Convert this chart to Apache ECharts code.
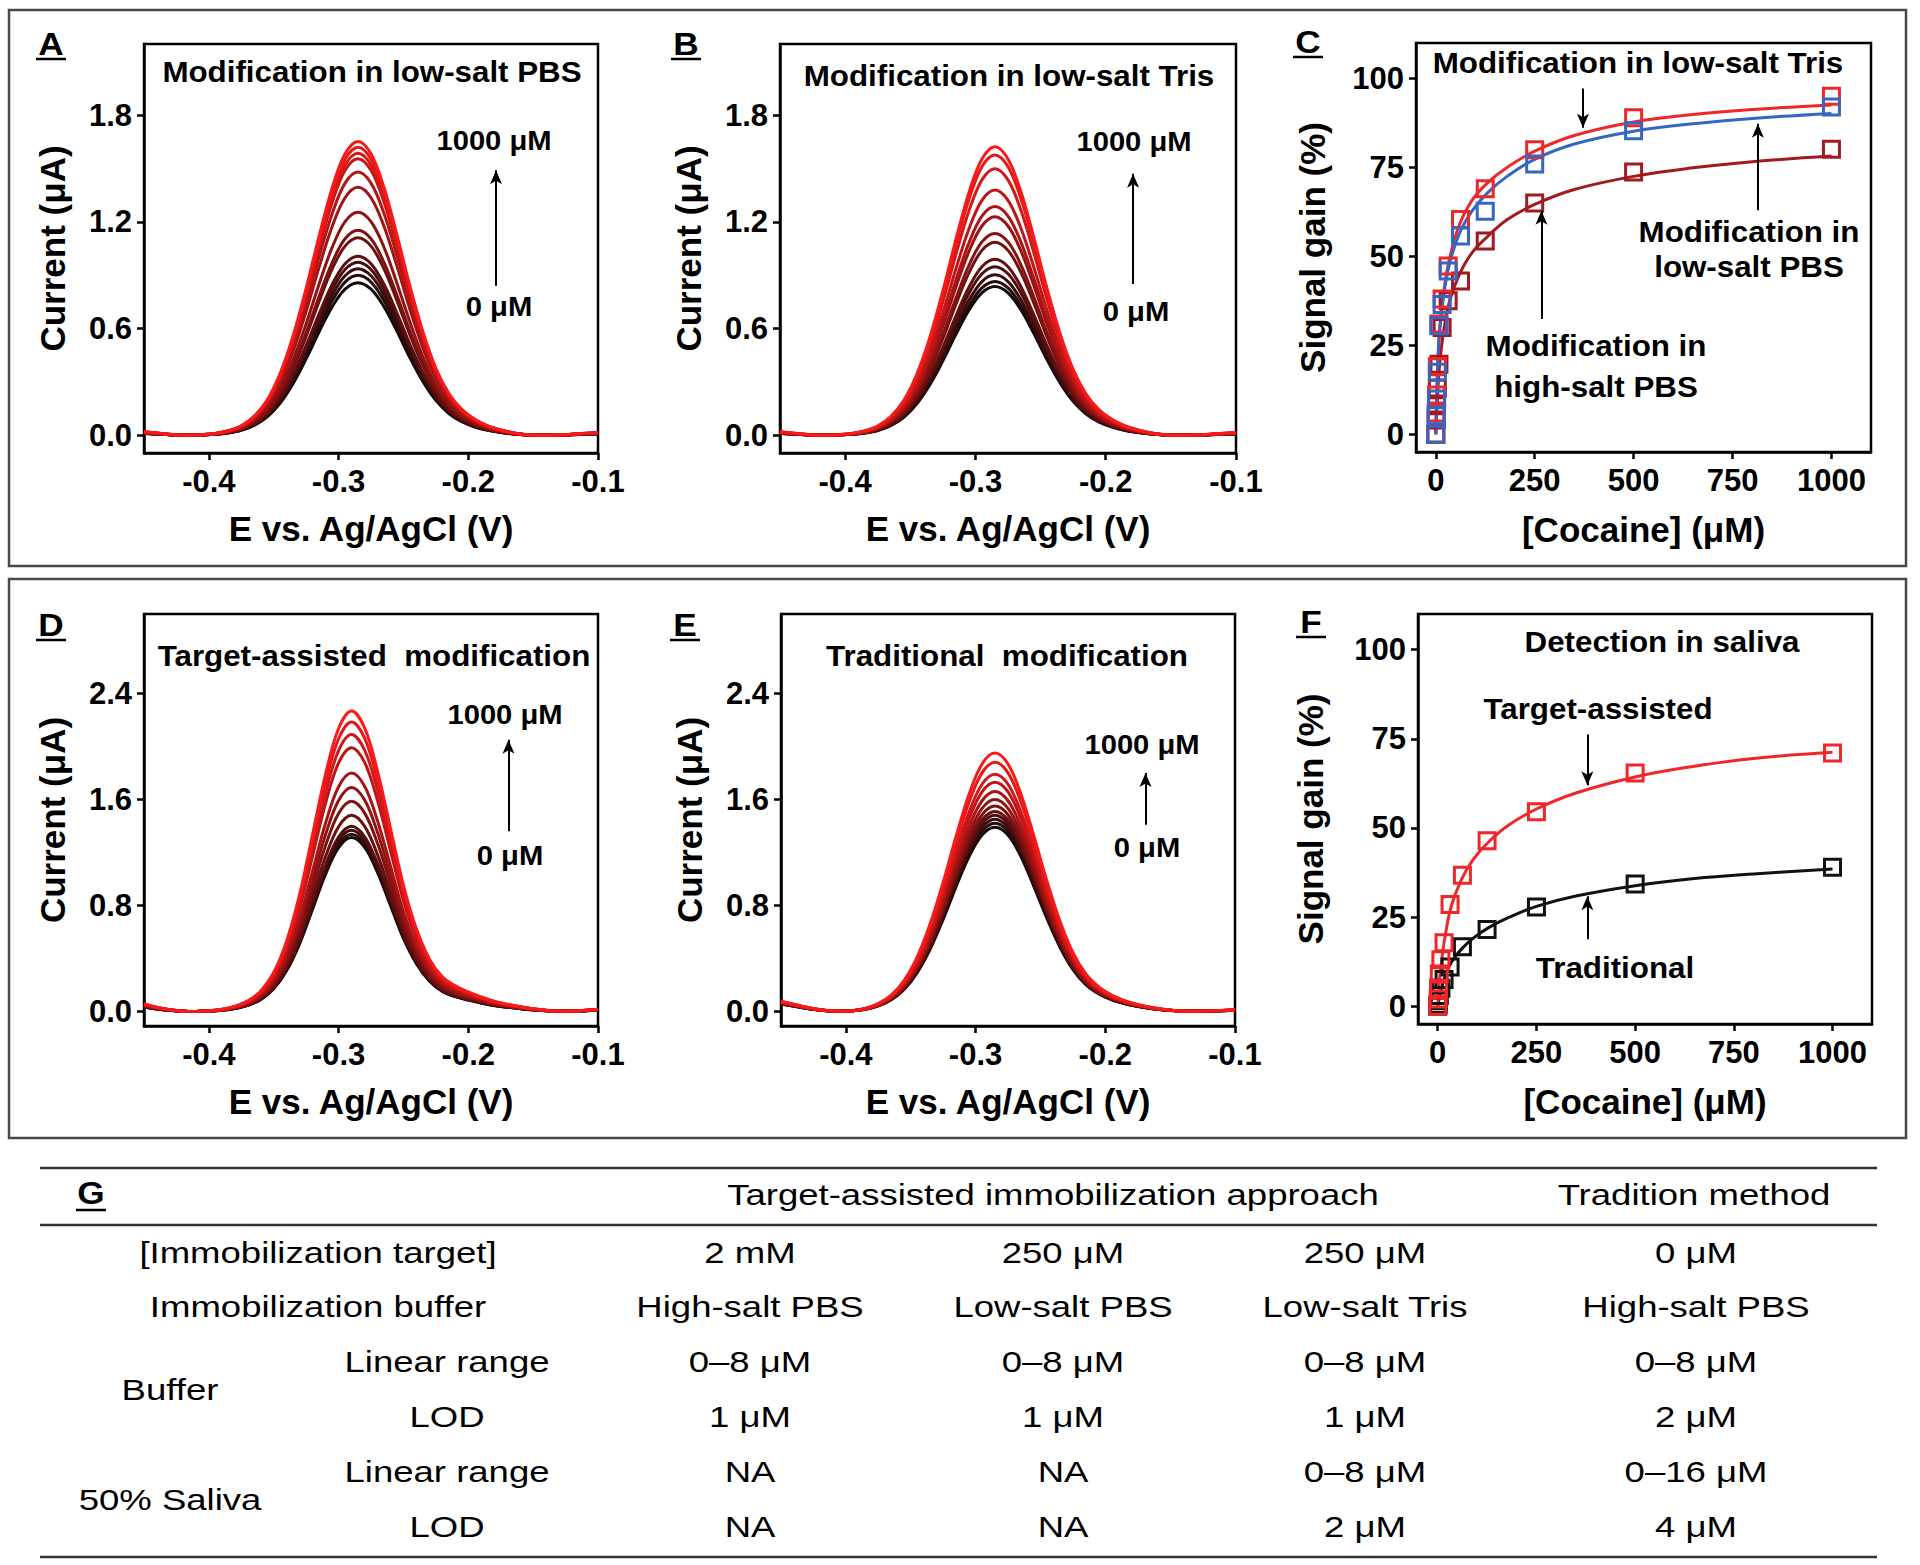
<!DOCTYPE html>
<html><head><meta charset="utf-8">
<script src="https://cdn.jsdelivr.net/npm/echarts@6/dist/echarts.min.js"></script>
<style>html,body{margin:0;padding:0;background:#fff}#chart{width:1920px;height:1565px}</style>
</head><body><div id="chart"></div>
<script>
// ---------- DATA ----------
// Square-wave voltammograms: potentials (V) and normalised peak profile
const potAB = [-0.45,-0.435,-0.425,-0.415,-0.405,-0.395,-0.385,-0.375,-0.365,-0.355,-0.345,-0.335,-0.325,-0.315,-0.305,-0.295,-0.285,-0.275,-0.265,-0.255,-0.245,-0.235,-0.225,-0.215,-0.205,-0.195,-0.185,-0.175,-0.165,-0.155,-0.145,-0.135,-0.125,-0.115,-0.10];
const shapeAB = [0.012,0.005,0.001,0.0,0.002,0.006,0.015,0.032,0.065,0.12,0.211,0.339,0.5,0.678,0.841,0.958,1.0,0.958,0.843,0.682,0.508,0.352,0.228,0.142,0.088,0.054,0.032,0.018,0.008,0.002,0.0,0.0,0.002,0.005,0.009];
const potD = [-0.45,-0.44,-0.43,-0.42,-0.41,-0.40,-0.39,-0.38,-0.37,-0.36,-0.35,-0.34,-0.33,-0.32,-0.31,-0.30,-0.29,-0.28,-0.27,-0.26,-0.25,-0.24,-0.23,-0.22,-0.21,-0.20,-0.19,-0.18,-0.17,-0.16,-0.15,-0.14,-0.13,-0.12,-0.11,-0.10];
const shapeD = [0.026,0.014,0.006,0.001,0.0,0.002,0.007,0.017,0.035,0.068,0.13,0.235,0.39,0.59,0.79,0.942,1.0,0.945,0.80,0.61,0.42,0.275,0.175,0.115,0.085,0.065,0.048,0.034,0.024,0.016,0.009,0.004,0.001,0.001,0.004,0.007];
const potE = [-0.45,-0.435,-0.425,-0.415,-0.405,-0.395,-0.385,-0.375,-0.365,-0.355,-0.345,-0.335,-0.325,-0.315,-0.305,-0.295,-0.285,-0.275,-0.265,-0.255,-0.245,-0.235,-0.225,-0.215,-0.205,-0.195,-0.185,-0.175,-0.165,-0.155,-0.145,-0.135,-0.125,-0.115,-0.10];
const shapeE = [0.04,0.022,0.011,0.004,0.001,0.003,0.012,0.03,0.063,0.12,0.211,0.339,0.5,0.678,0.841,0.958,1.0,0.958,0.841,0.678,0.505,0.35,0.228,0.145,0.095,0.063,0.042,0.027,0.016,0.008,0.003,0.001,0.001,0.003,0.006];
// peak currents (µA), 0 µM -> 1000 µM
const peaksA = [0.858,0.899,0.936,0.973,1.007,1.110,1.153,1.254,1.394,1.480,1.555,1.586,1.620,1.652];
const peaksB = [0.836,0.865,0.902,0.948,0.989,1.085,1.135,1.228,1.286,1.379,1.499,1.576,1.622];
const peaksD = [1.312,1.337,1.367,1.397,1.48,1.586,1.69,1.80,1.991,2.09,2.185,2.267];
const peaksE = [1.39,1.42,1.45,1.48,1.51,1.55,1.60,1.66,1.73,1.79,1.88,1.95];

// Panel C: signal gain (%) vs [cocaine] (µM)
const concC = [0,1,2,4,8,16,31.25,62.5,125,250,500,1000];
const gainTrisC = [0,6,11,19,31,38,47.3,60.4,69,80,89,95];
const gainLowPbsC = [0,5.2,9.9,17.4,30.5,36.5,45.9,55.7,62.7,76,85.3,92];
const gainHighPbsC = [0,4,8,13,19.7,30,37.5,43.1,54.3,65,73.7,80.1];
const fitXC = [0,5,10,20,35,60,90,130,180,250,350,500,650,800,1000];
const fitTrisC = [0,20,30,40,49.5,59,65.5,70.6,75,79.6,84,87.8,89.9,91.3,92.6];
const fitLowPbsC = [0,19,29,39,48,56.5,62.5,67.8,72.5,77.3,81.6,85.2,87.3,88.8,90.2];
const fitHighPbsC = [0,12,20,29,37.5,45,50.8,55.5,60.3,64.6,68.8,72.5,74.9,76.6,78.2];

// Panel F: detection in saliva
const concF = [0,1,2,4,8,16,31.25,62.5,125,250,500,1000];
const gainTargetF = [0,2,5,9,13,17.8,28.5,36.7,46.4,54.5,65.4,71];
const gainTradF = [0,0.5,1.5,3,5,7.5,11,16.7,21.5,27.8,34.3,39];
const fitXF = [0,5,10,20,35,60,90,130,180,250,350,500,650,800,1000];
const fitTargetF = [0,8,13,20.5,28.3,35.5,41.2,46.2,50.8,55.3,59.8,64.3,67.3,69.5,71.2];
const fitTradF = [0,2.9,5.2,8.8,12.4,16,19.1,22.1,24.9,28,30.9,33.8,35.8,37.1,38.5];

// Tick labels
const voltTicks = [-0.4,-0.3,-0.2,-0.1];
const currTicksAB = [0,0.6,1.2,1.8];
const currTicksDE = [0,0.8,1.6,2.4];
const concTicks = [0,250,500,750,1000];
const gainTicks = [0,25,50,75,100];

// Table G
const tableHead = ['Target-assisted immobilization approach','Tradition method'];
const rowNames = ['[Immobilization target]','Immobilization buffer'];
const groupNames = ['Buffer','50% Saliva'];
const metricNames = ['Linear range','LOD'];
const valTarget = ['2 mM','250 μM','250 μM','0 μM'];
const valBuffer = ['High-salt PBS','Low-salt PBS','Low-salt Tris','High-salt PBS'];
const valBufLinear = ['0–8 μM','0–8 μM','0–8 μM','0–8 μM'];
const valBufLOD = ['1 μM','1 μM','1 μM','2 μM'];
const valSalLinear = ['NA','NA','0–8 μM','0–16 μM'];
const valSalLOD = ['NA','NA','2 μM','4 μM'];

// ---------- STYLE / BUILD ----------
const FONT = '"Liberation Sans", Arial, Helvetica, sans-serif';
const labelStyle = {color:'#000', fontWeight:'bold', fontSize:31, fontFamily:FONT};
const nameStyle = {color:'#000', fontWeight:'bold', fontSize:35, fontFamily:FONT};
const lineAx = {show:true, onZero:false, lineStyle:{color:'#000', width:2.5}};

function gradColor(i, n){
  const t = n>1 ? i/(n-1) : 1;
  return 'rgb(' + Math.round(20 + 230*t) + ',' + Math.round(10 + 15*t) + ',' + Math.round(10 + 15*t) + ')';
}
function valueAxis(gi, min, max, ticks, fmt, name, gap, isX){
  return {type:'value', gridIndex:gi, min:min, max:max, name:name, nameLocation:'middle', nameGap:gap,
    nameMoveOverlap:false, nameTextStyle:nameStyle, axisLine:lineAx,
    axisTick:{show:true, customValues:ticks, length:7, inside:false, lineStyle:{color:'#000', width:2.5}},
    axisLabel:Object.assign({customValues:ticks, formatter:fmt, margin:isX?13:12}, labelStyle),
    splitLine:{show:false}, minorTick:{show:false}};
}
function sweep(gi, pot, shape, peaks, arrow){
  return peaks.map((pk,i)=>{
    const s = {type:'line', xAxisIndex:gi, yAxisIndex:gi, data:pot.map((x,j)=>[x, shape[j]*pk]),
      smooth:0.35, showSymbol:false, silent:true, z:2,
      lineStyle:{width:3, color:gradColor(i, peaks.length)}};
    if(i===0 && arrow){
      s.markLine = {silent:true, symbol:['none','arrow'], symbolSize:[9,14], animation:false,
        label:{show:false}, lineStyle:{color:'#000', width:2, type:'solid'},
        data:[[{coord:arrow[0]},{coord:arrow[1]}]]};
    }
    return s;
  });
}
function fitLine(gi, xs, ys, color, arrows){
  const s = {type:'line', xAxisIndex:gi, yAxisIndex:gi, data:xs.map((x,j)=>[x, ys[j]]),
    smooth:0.4, showSymbol:false, silent:true, z:3, lineStyle:{width:3, color:color}};
  if(arrows){
    s.markLine = {silent:true, symbol:['none','arrow'], symbolSize:[9,14], animation:false,
      label:{show:false}, lineStyle:{color:'#000', width:2, type:'solid'},
      data:arrows.map(a=>[{coord:a[0]},{coord:a[1]}])};
  }
  return s;
}
function squares(gi, xs, ys, color){
  return {type:'scatter', xAxisIndex:gi, yAxisIndex:gi, data:xs.map((x,j)=>[x, ys[j]]),
    symbol:'rect', symbolSize:16, silent:true, z:4,
    itemStyle:{color:'rgba(255,255,255,0)', borderColor:color, borderWidth:3, opacity:1}};
}

const RED = '#f0262b', BLUE = '#3467c2', DARKRED = '#a01a1f', BLACK = '#111';
const f1 = v => v.toFixed(1);
const f0 = v => String(v);

const grids = [
  {left:144, top:44, width:454, height:409},
  {left:780, top:44, width:456, height:409},
  {left:1416, top:43, width:455, height:409},
  {left:144, top:614, width:454, height:412},
  {left:781, top:614, width:454, height:412},
  {left:1418, top:614, width:454, height:410}
].map(g=>Object.assign({show:true, borderColor:'#000', borderWidth:2.5, backgroundColor:'transparent', outerBoundsMode:'none', containLabel:false}, g));

const xAxes = [
  valueAxis(0,-0.45,-0.1,voltTicks,f1,'E vs. Ag/AgCl (V)',58,true),
  valueAxis(1,-0.45,-0.1,voltTicks,f1,'E vs. Ag/AgCl (V)',58,true),
  valueAxis(2,-50,1100,concTicks,f0,'[Cocaine] (μM)',60,true),
  valueAxis(3,-0.45,-0.1,voltTicks,f1,'E vs. Ag/AgCl (V)',58,true),
  valueAxis(4,-0.45,-0.1,voltTicks,f1,'E vs. Ag/AgCl (V)',58,true),
  valueAxis(5,-50,1100,concTicks,f0,'[Cocaine] (μM)',60,true)
];
const yAxes = [
  valueAxis(0,-0.1,2.2,currTicksAB,f1,'Current (μA)',74,false),
  valueAxis(1,-0.1,2.2,currTicksAB,f1,'Current (μA)',74,false),
  valueAxis(2,-5,110,gainTicks,f0,'Signal gain (%)',86,false),
  valueAxis(3,-0.11,3.0,currTicksDE,f1,'Current (μA)',74,false),
  valueAxis(4,-0.11,3.0,currTicksDE,f1,'Current (μA)',74,false),
  valueAxis(5,-5,110,gainTicks,f0,'Signal gain (%)',90,false)
];

const series = [].concat(
  sweep(0, potAB, shapeAB, peaksA, [[-0.1786,0.84],[-0.1786,1.49]]),
  sweep(1, potAB, shapeAB, peaksB, [[-0.179,0.85],[-0.179,1.47]]),
  sweep(3, potD, shapeD, peaksD, [[-0.169,1.36],[-0.169,2.05]]),
  sweep(4, potE, shapeE, peaksE, [[-0.169,1.41],[-0.169,1.80]]),
  [
    fitLine(2, fitXC, fitHighPbsC, DARKRED, [[[267,32.4],[267,62.8]]]),
    fitLine(2, fitXC, fitTrisC, RED, [[[372,97.2],[372,86.2]]]),
    fitLine(2, fitXC, fitLowPbsC, BLUE, [[[814,63],[814,87.3]]]),
    squares(2, concC, gainHighPbsC, DARKRED),
    squares(2, concC, gainTrisC, RED),
    squares(2, concC, gainLowPbsC, BLUE),
    fitLine(5, fitXF, fitTradF, BLACK, [[[379,18.8],[379,30.8]]]),
    fitLine(5, fitXF, fitTargetF, RED, [[[379,76.2],[379,62.0]]]),
    squares(5, concF, gainTradF, BLACK),
    squares(5, concF, gainTargetF, RED)
  ]
);

// ---------- GRAPHIC (frames, panel letters, annotations, table) ----------
const graphic = [];
function txt(t, x, y, size, bold, sx, align){
  graphic.push({type:'text', x:x, y:y, scaleX:sx||1, silent:true, z:10,
    style:{text:t, x:0, y:0, align:align||'center', textAlign:align||'center', verticalAlign:'middle', textVerticalAlign:'middle',
      font:(bold?'bold ':'') + size + 'px ' + FONT, fill:'#000'}});
}
function hline(x1, x2, y, w, c){
  graphic.push({type:'line', silent:true, z:10, shape:{x1:x1, y1:y, x2:x2, y2:y}, style:{stroke:c||'#000', lineWidth:w}});
}
graphic.push({type:'rect', silent:true, z:0, shape:{x:9, y:10, width:1897, height:556}, style:{fill:'none', stroke:'#4a4a4a', lineWidth:2.5}});
graphic.push({type:'rect', silent:true, z:0, shape:{x:9, y:579, width:1897, height:559}, style:{fill:'none', stroke:'#4a4a4a', lineWidth:2.5}});

// panel letters (underlined)
[['A',51,44],['B',686,44],['C',1308,42],['D',51,625],['E',685,625],['F',1311,622]].forEach(p=>{
  txt(p[0], p[1], p[2], 32, true, 1.1);
  hline(p[1]-15, p[1]+15, p[2]+15, 2.5);
});

// annotations
const AS = 1.08;
txt('Modification in low-salt PBS', 372, 72, 29, true, AS);
txt('1000 μM', 494, 141, 27, true, AS);
txt('0 μM', 499, 307, 27, true, AS);
txt('Modification in low-salt Tris', 1009, 76, 29, true, AS);
txt('1000 μM', 1134, 142, 27, true, AS);
txt('0 μM', 1136, 312, 27, true, AS);
txt('Modification in low-salt Tris', 1638, 63, 29, true, AS);
txt('Modification in', 1749, 232, 29, true, AS);
txt('low-salt PBS', 1749, 267, 29, true, AS);
txt('Modification in', 1596, 346, 29, true, AS);
txt('high-salt PBS', 1596, 387, 29, true, AS);
txt('Target-assisted  modification', 374, 656, 29, true, AS);
txt('1000 μM', 505, 715, 27, true, AS);
txt('0 μM', 510, 856, 27, true, AS);
txt('Traditional  modification', 1007, 656, 29, true, AS);
txt('1000 μM', 1142, 745, 27, true, AS);
txt('0 μM', 1147, 848, 27, true, AS);
txt('Detection in saliva', 1662, 642, 29, true, AS);
txt('Target-assisted', 1598, 709, 29, true, AS);
txt('Traditional', 1615, 968, 29, true, AS);

// table G
const TS = 1.26, TF = 29;
hline(40, 1877, 1168, 2.5, '#333');
hline(40, 1877, 1225, 2.5, '#333');
hline(40, 1877, 1557, 2.5, '#333');
txt('G', 91, 1193, 32, true, 1.1);
hline(76, 106, 1210, 2.5);
txt(tableHead[0], 1053, 1195, TF, false, TS);
txt(tableHead[1], 1694, 1195, TF, false, TS);
const colX = [750, 1063, 1365, 1696];
const rowY = [1253, 1307, 1362, 1417, 1472, 1527];
txt(rowNames[0], 318, rowY[0], TF, false, TS);
txt(rowNames[1], 318, rowY[1], TF, false, TS);
txt(groupNames[0], 170, (rowY[2]+rowY[3])/2, TF, false, TS);
txt(groupNames[1], 170, (rowY[4]+rowY[5])/2, TF, false, TS);
[2,3,4,5].forEach((r,k)=>txt(metricNames[k%2], 447, rowY[r], TF, false, TS));
[valTarget, valBuffer, valBufLinear, valBufLOD, valSalLinear, valSalLOD].forEach((vals, r)=>{
  vals.forEach((v, c)=>txt(v, colX[c], rowY[r], TF, false, TS));
});

const chart = echarts.init(document.getElementById('chart'), null, {renderer:'svg', width:1920, height:1565});
chart.setOption({
  animation:false,
  backgroundColor:'#fff',
  grid:grids,
  xAxis:xAxes,
  yAxis:yAxes,
  series:series,
  graphic:graphic
});
</script></body></html>
